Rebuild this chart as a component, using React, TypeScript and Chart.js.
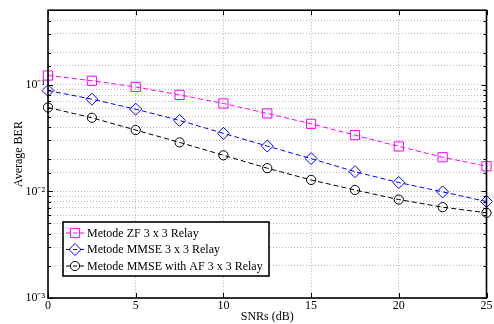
import React, { useEffect, useRef } from 'react';
import { Chart, registerables } from 'chart.js';

Chart.register(...registerables);

const snr = [0, 2.5, 5, 7.5, 10, 12.5, 15, 17.5, 20, 22.5, 25];
const berZF = [0.122, 0.109, 0.0953, 0.0803, 0.0667, 0.0538, 0.043, 0.0337, 0.0264, 0.0209, 0.0172];
const berMMSE = [0.0882, 0.0732, 0.059, 0.0463, 0.035, 0.0266, 0.0203, 0.0153, 0.0121, 0.00989, 0.00803];
const berMMSEAF = [0.0612, 0.049, 0.0376, 0.0288, 0.0218, 0.0165, 0.0128, 0.0103, 0.00838, 0.00711, 0.00629];
const seriesLabels = ['Metode ZF 3 x 3 Relay', 'Metode MMSE 3 x 3 Relay', 'Metode MMSE with AF 3 x 3 Relay'];
const xTickValues = [0, 5, 10, 15, 20, 25];
const yTickValues = [0.001, 0.01, 0.1];
const yTickLabels = ['10\u207B\u00B3', '10\u207B\u00B2', '10\u207B\u00B9'];
const xTitle = 'SNRs (dB)';
const yTitle = 'Average BER';
const xMin = 0, xMax = 25, yMin = 0.001, yMax = 0.5;

const FONT = '"Liberation Serif", "Times New Roman", serif';

function drawMarker(ctx: CanvasRenderingContext2D, style: string, x: number, y: number, r: number, color: string) {
  ctx.save();
  ctx.strokeStyle = color;
  ctx.lineWidth = 1;
  ctx.setLineDash([]);
  ctx.beginPath();
  if (style === 'rect') {
    const s = r * Math.SQRT1_2;
    ctx.rect(x - s, y - s, 2 * s, 2 * s);
  } else if (style === 'rectRot') {
    ctx.moveTo(x, y - r);
    ctx.lineTo(x + r, y);
    ctx.lineTo(x, y + r);
    ctx.lineTo(x - r, y);
    ctx.closePath();
  } else {
    ctx.arc(x, y, r, 0, Math.PI * 2);
  }
  ctx.stroke();
  ctx.restore();
}

const framePlugin = {
  id: 'frame',
  afterDraw(chart: any) {
    const { ctx, chartArea: a, scales } = chart;
    ctx.save();
    ctx.strokeStyle = '#000';
    ctx.lineWidth = 1;
    ctx.beginPath();
    xTickValues.forEach((v) => {
      const px = Math.round(scales.x.getPixelForValue(v)) + 0.5;
      ctx.moveTo(px, a.bottom);
      ctx.lineTo(px, a.bottom - 5);
      ctx.moveTo(px, a.top);
      ctx.lineTo(px, a.top + 5);
    });
    scales.y.ticks.forEach((t: any) => {
      const major = yTickValues.some((m) => Math.abs(Math.log10(m) - Math.log10(t.value)) < 1e-6);
      const len = major ? 5 : 3;
      const py = Math.round(scales.y.getPixelForValue(t.value)) + 0.5;
      ctx.moveTo(a.left, py);
      ctx.lineTo(a.left + len, py);
      ctx.moveTo(a.right, py);
      ctx.lineTo(a.right - len, py);
    });
    ctx.stroke();
    ctx.lineWidth = 1.6;
    ctx.strokeRect(a.left, a.top, a.right - a.left, a.bottom - a.top);
    ctx.restore();
  },
};

const legendPlugin = {
  id: 'boxLegend',
  afterDraw(chart: any) {
    const ctx = chart.ctx as CanvasRenderingContext2D;
    const x0 = 63, y0 = 222, w = 206, h = 54;
    ctx.save();
    ctx.fillStyle = '#fff';
    ctx.fillRect(x0, y0, w, h);
    ctx.lineWidth = 1.6;
    ctx.strokeStyle = '#000';
    ctx.strokeRect(x0, y0, w, h);
    chart.data.datasets.forEach((ds: any, i: number) => {
      const cy = y0 + 11 + i * 16.5;
      ctx.strokeStyle = ds.borderColor;
      ctx.lineWidth = 1;
      ctx.setLineDash([4, 3]);
      ctx.beginPath();
      ctx.moveTo(x0 + 3, cy);
      ctx.lineTo(x0 + 21, cy);
      ctx.stroke();
      ctx.setLineDash([]);
      drawMarker(ctx, ds.pointStyle, x0 + 12, cy, ds.pointRadius, ds.borderColor);
      ctx.fillStyle = '#000';
      ctx.font = '12px ' + FONT;
      ctx.textBaseline = 'middle';
      ctx.textAlign = 'left';
      ctx.fillText(ds.label, x0 + 24, cy + 0.5);
    });
    ctx.restore();
  },
};

export default function App() {
  const ref = useRef<HTMLCanvasElement | null>(null);
  useEffect(() => {
    if (!ref.current) return;
    const mk = (label: string, data: number[], color: string, style: string, r: number) => ({
      label,
      data: snr.map((x, i) => ({ x, y: data[i] })),
      borderColor: color,
      backgroundColor: 'transparent',
      borderWidth: 1,
      borderDash: [5, 3],
      pointStyle: style,
      pointRadius: r,
      pointBorderColor: color,
      pointBackgroundColor: 'transparent',
      pointBorderWidth: 1,
      tension: 0,
      clip: false,
    });
    const chart = new Chart(ref.current, {
      type: 'line',
      data: {
        datasets: [
          mk(seriesLabels[0], berZF, '#ff00ff', 'rect', 6.5),
          mk(seriesLabels[1], berMMSE, '#0000ff', 'rectRot', 6),
          mk(seriesLabels[2], berMMSEAF, '#000000', 'circle', 4.6),
        ] as any,
      },
      options: {
        animation: false,
        responsive: false,
        layout: { padding: { top: 9, right: 4, left: 0, bottom: 0 } },
        plugins: { legend: { display: false }, tooltip: { enabled: false } },
        scales: {
          x: {
            type: 'linear',
            min: xMin,
            max: xMax,
            afterBuildTicks: (s: any) => {
              s.ticks = xTickValues.map((v) => ({ value: v }));
            },
            afterFit: (s: any) => {
              s.height = 26;
              s.paddingRight = 0;
              s.paddingLeft = 0;
            },
            ticks: { color: '#000', font: { family: FONT, size: 12 }, padding: 1, maxRotation: 0 },
            grid: { color: '#b8b8b8', lineWidth: 1, drawTicks: false },
            border: { display: false, dash: [1, 2] },
            title: { display: true, text: xTitle, color: '#000', font: { family: FONT, size: 12 }, padding: { top: 0, bottom: 0 } },
          },
          y: {
            type: 'logarithmic',
            min: yMin,
            max: yMax,
            afterFit: (s: any) => {
              s.width = 48;
            },
            ticks: {
              color: '#000',
              font: { family: FONT, size: 12 },
              padding: 3,
              autoSkip: false,
              callback: (v: any) => {
                const i = yTickValues.findIndex((t) => Math.abs(Math.log10(t) - Math.log10(Number(v))) < 1e-6);
                return i >= 0 ? yTickLabels[i] : '';
              },
            },
            grid: { color: '#b8b8b8', lineWidth: 1, drawTicks: false },
            border: { display: false, dash: [1, 2] },
            title: { display: true, text: yTitle, color: '#000', font: { family: FONT, size: 12 }, padding: { top: 12, bottom: 0 } },
          },
        },
      },
      plugins: [framePlugin, legendPlugin],
    });
    return () => chart.destroy();
  }, []);
  return (
    <div style={{ position: 'fixed', left: 0, top: 0, width: 494, height: 324, background: '#fff' }}>
      <canvas ref={ref} width={494} height={324} />
    </div>
  );
}
